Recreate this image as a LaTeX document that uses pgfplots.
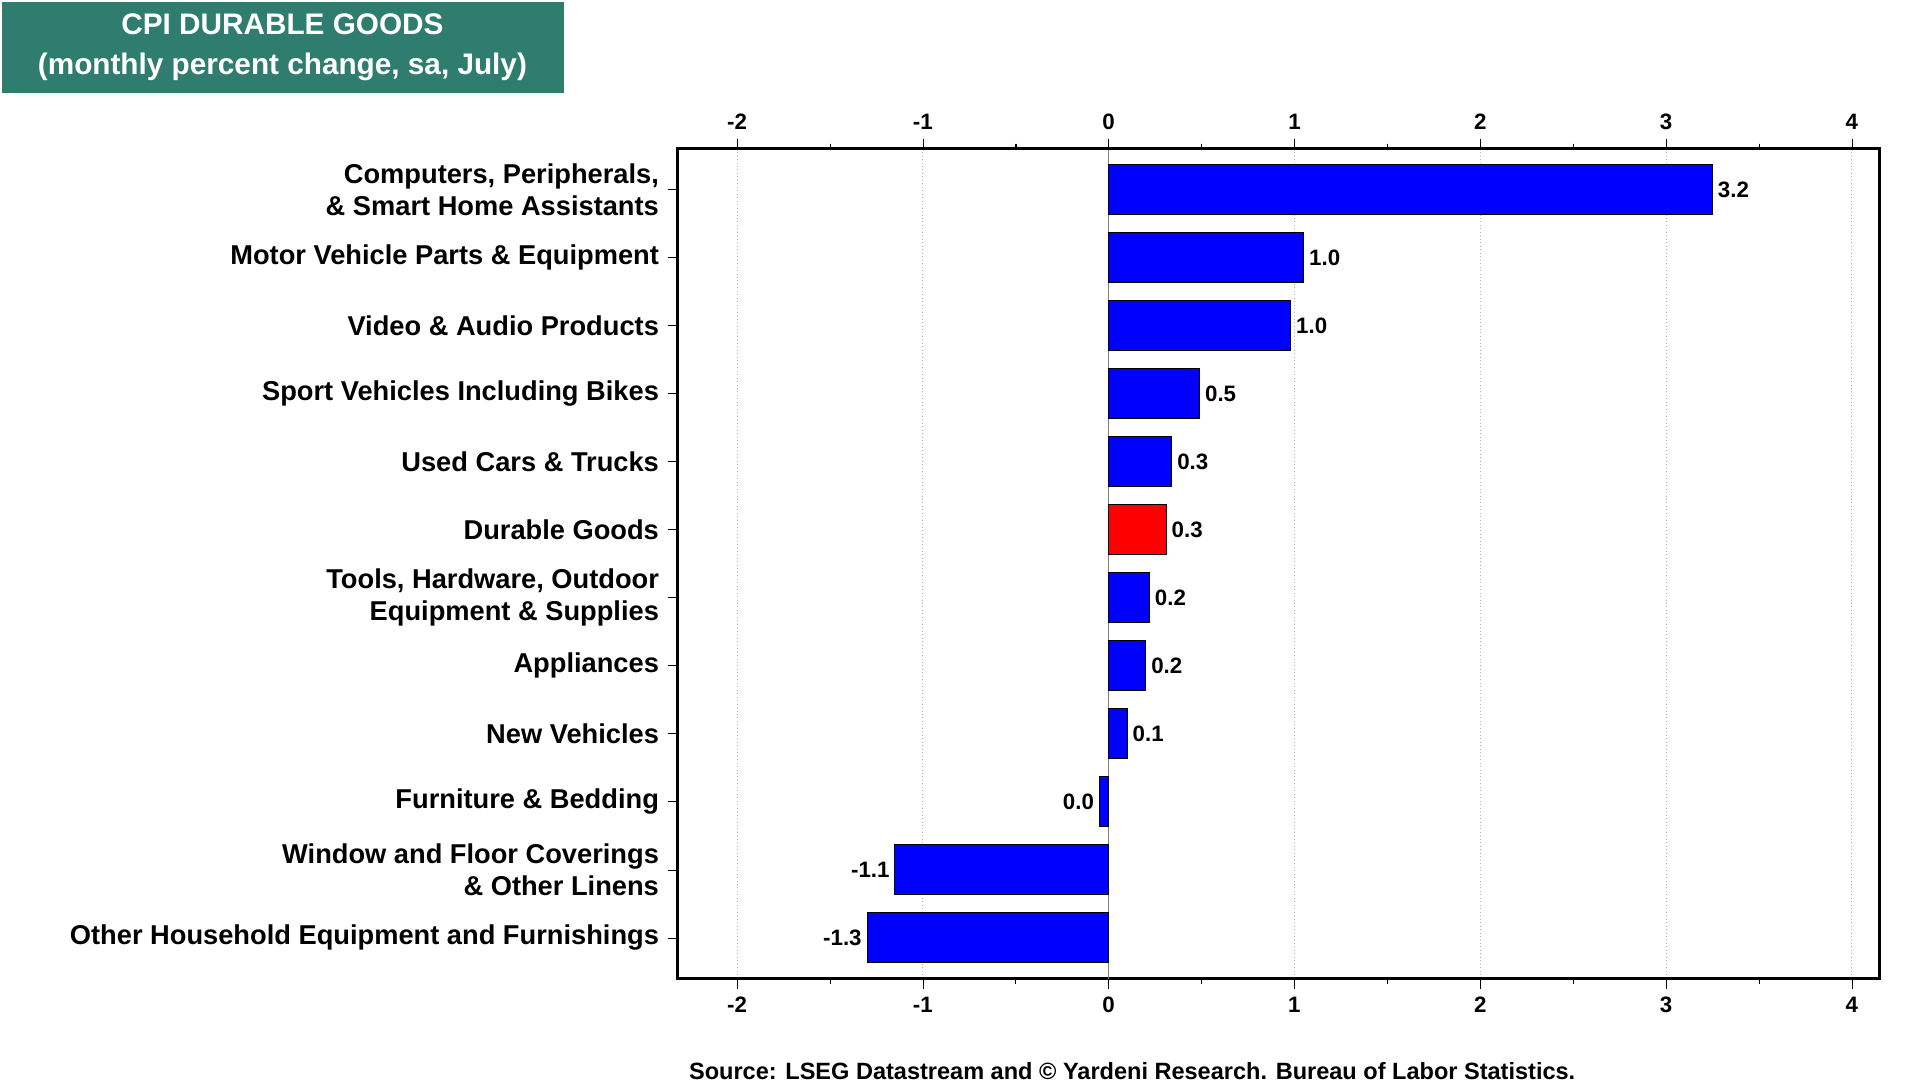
\documentclass[border=0pt]{standalone}
\usepackage{pgfplots}
\pgfplotsset{compat=1.18}
\usepackage{fontspec}
\setmainfont{Liberation Sans}
\definecolor{teal1}{RGB}{46,125,110}
\pgfplotsset{common/.style={at={(273.5pt,-395pt)},anchor=south west,scale only axis,width=485pt,height=335pt,
  xmin=-2.32, xmax=4.147, ymin=-0.6, ymax=11.6,
  xtick={-2,...,4}, minor x tick num=1, tick align=outside, tick style={black},
  major tick length=4pt, minor tick length=2pt,
  xticklabel style={font=\bfseries\fontsize{9}{11}\selectfont},
  /pgf/number format/assume math mode=true, axis line style={line width=1.2pt}}}
\begin{document}
\begin{tikzpicture}
\path (0,0) rectangle (775pt,-440pt);
\fill[teal1] (1pt,-1pt) rectangle (227.5pt,-37.5pt);
\node[white,font=\bfseries\fontsize{12}{16}\selectfont,align=center] at (114pt,-19pt) {CPI DURABLE GOODS\\(monthly percent change, sa, July)};
\node[font=\bfseries\fontsize{9.5}{11}\selectfont] at (457pt,-432.5pt) {Source: LSEG Datastream and \textcopyright\ Yardeni Research. Bureau of Labor Statistics.};
\begin{axis}[common,
  xbar, bar width=0.73, bar shift=0pt,
  xmajorgrids, grid style={densely dotted,gray!60},
  xticklabel pos=lower, ytick pos=left,
  ytick={0,...,11},
  yticklabels={Other Household Equipment and Furnishings,{Window and Floor Coverings\\\& Other Linens},Furniture \& Bedding,New Vehicles,Appliances,{Tools, Hardware, Outdoor\\Equipment \& Supplies},Durable Goods,Used Cars \& Trucks,Sport Vehicles Including Bikes,Video \& Audio Products,Motor Vehicle Parts \& Equipment,{Computers, Peripherals,\\\& Smart Home Assistants}},
  yticklabel style={align=right,font=\bfseries\fontsize{11}{13}\selectfont},
  nodes near coords, point meta=explicit symbolic,
  every node near coord/.append style={font=\bfseries\fontsize{9}{11}\selectfont,anchor=west,inner sep=2pt},
  extra x ticks={0}, extra x tick labels={}, extra x tick style={grid=major,grid style={solid,gray}}]
\addplot[fill=blue,draw=black,line width=0.4pt] coordinates {
(0.1,3)[0.1] (0.2,4)[0.2] (0.22,5)[0.2]
(0.34,7)[0.3] (0.49,8)[0.5] (0.98,9)[1.0] (1.05,10)[1.0] (3.25,11)[3.2]};
\addplot[fill=blue,draw=black,line width=0.4pt,every node near coord/.append style={anchor=east}] coordinates {
(-1.3,0)[-1.3] (-1.15,1)[-1.1] (-0.05,2)[0.0]};
\addplot[fill=red,draw=black,line width=0.4pt] coordinates {(0.31,6)[0.3]};
\end{axis}
\begin{axis}[common, hide y axis, axis x line*=top]
\addplot[draw=none] coordinates {(0,0)};
\end{axis}
\end{tikzpicture}
\end{document}
